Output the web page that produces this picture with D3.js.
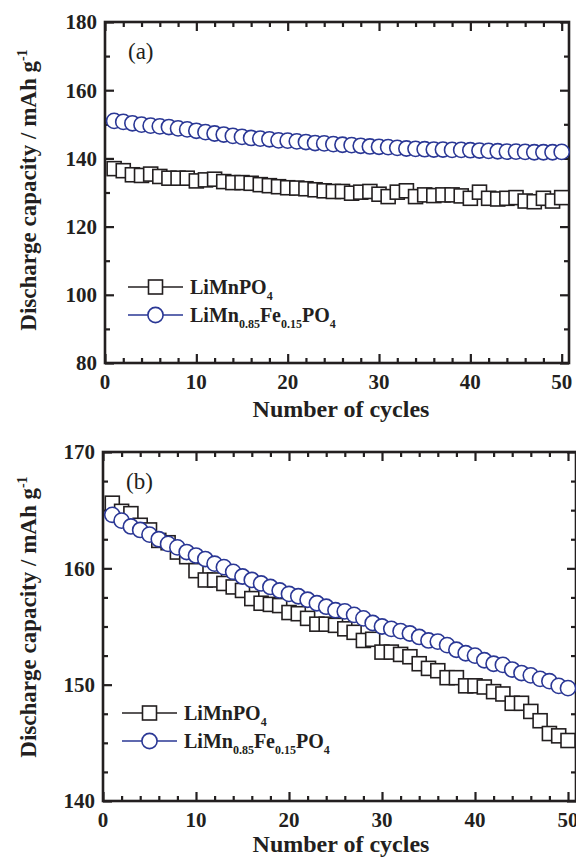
<!DOCTYPE html>
<html lang="en">
<head>
    <meta charset="UTF-8">
    <title>Discharge capacity vs cycles</title>
    <script src="https://d3js.org/d3.v7.min.js"></script>
</head>
<style>
    body{
        margin: 0;
        background: #fff;
    }
</style>
<body>
    <div id="chart-container"></div>
    <script>
        const cycles = [1,2,3,4,5,6,7,8,9,10,11,12,13,14,15,16,17,18,19,20,21,22,23,24,25,
                        26,27,28,29,30,31,32,33,34,35,36,37,38,39,40,41,42,43,44,45,46,47,48,49,50];

        // panel (a)
        const aMnPO4 = [137.0,136.4,135.2,135.0,135.4,134.7,134.2,134.2,134.2,133.4,
                        133.7,133.9,133.2,132.9,132.9,132.7,132.3,132.0,131.7,131.4,
                        131.3,131.1,130.8,130.5,130.3,130.3,129.8,130.1,130.3,129.5,
                        128.8,130.1,130.5,128.8,129.3,129.1,129.3,129.3,129.0,128.3,
                        130.1,128.3,128.1,128.3,128.5,127.5,127.3,128.3,127.5,128.5];
        const aMnFe = [151.0,150.7,150.3,149.9,149.6,149.4,149.2,148.8,148.5,148.1,
                       147.7,147.3,147.0,146.6,146.3,146.0,145.8,145.6,145.3,145.2,
                       145.0,144.8,144.5,144.4,144.2,144.0,143.9,143.7,143.5,143.4,
                       143.3,143.1,142.9,142.8,142.7,142.6,142.6,142.5,142.5,142.4,
                       142.3,142.2,142.1,142.0,142.0,141.9,141.8,141.8,141.8,141.9];

        // panel (b)
        const bMnPO4 = [165.6,164.9,164.7,163.7,163.3,162.4,162.2,161.4,161.0,159.8,
                        159.0,159.0,158.7,158.4,158.1,157.4,157.0,156.9,156.8,156.2,
                        156.1,155.7,155.2,155.2,155.1,154.8,154.5,153.8,153.9,152.8,
                        152.8,152.6,152.4,151.8,151.4,151.2,150.6,150.6,149.9,149.9,
                        149.8,149.4,149.2,148.4,148.4,147.7,146.9,145.8,145.6,145.2];
        const bMnFe = [164.6,164.1,163.6,163.3,162.9,162.5,162.1,161.8,161.4,161.1,
                       160.8,160.4,160.1,159.7,159.3,159.0,158.7,158.4,158.1,157.8,
                       157.6,157.3,157.0,156.7,156.4,156.3,156.0,155.7,155.3,155.0,
                       154.8,154.6,154.4,154.1,153.8,153.7,153.4,153.0,152.7,152.5,
                       152.1,151.8,151.7,151.3,151.0,150.8,150.5,150.3,149.9,149.7];

        const xMajor = [0, 10, 20, 30, 40, 50];
        const xMinor = [2,4,6,8,12,14,16,18,22,24,26,28,32,34,36,38,42,44,46,48];
        const aYMajor = [80, 100, 120, 140, 160, 180];
        const aYMinor = [90, 110, 130, 150, 170];
        const bYMajor = [140, 150, 160, 170];
        const bYMinor = [142.5, 145, 147.5, 152.5, 155, 157.5, 162.5, 165, 167.5];

        const w = 576;
        const h = 858;
        const blue = "#2a3795";
        const black = "#231f20";
        const serif = "'Liberation Serif', 'Times New Roman', Times, 'DejaVu Serif', serif";

        const svg = d3.select("#chart-container")
                    .append("svg")
                    .attr("width", w)
                    .attr("height", h)
                    .attr("font-family", serif)
                    .style("font-family", serif);

        const drawPanel = (p) => {
            const x = d3.scaleLinear().domain(p.xDomain).range([p.left, p.right]);
            const y = d3.scaleLinear().domain(p.yDomain).range([p.bottom, p.top]);
            const g = svg.append("g");

            // ticks on all four sides, pointing in
            const tickAxis = (axisFn, scale, vals, size, tx, ty) => {
                g.append("g")
                    .attr("transform", `translate(${tx},${ty})`)
                    .call(axisFn(scale).tickValues(vals).tickSizeInner(-size).tickSizeOuter(0).tickFormat(""))
                    .call(s => s.select(".domain").remove())
                    .call(s => s.selectAll("line").attr("stroke", black).attr("stroke-width", 2.2));
            };
            tickAxis(d3.axisBottom, x, xMajor, 9, 0, p.bottom);
            tickAxis(d3.axisBottom, x, xMinor, 5, 0, p.bottom);
            tickAxis(d3.axisTop, x, xMajor, 9, 0, p.top);
            tickAxis(d3.axisTop, x, xMinor, 5, 0, p.top);
            tickAxis(d3.axisLeft, y, p.yMajor, 9, p.left, 0);
            tickAxis(d3.axisLeft, y, p.yMinor, 5, p.left, 0);
            tickAxis(d3.axisRight, y, p.yMajor, 9, p.right, 0);
            tickAxis(d3.axisRight, y, p.yMinor, 5, p.right, 0);

            // frame
            g.append("rect")
                .attr("x", p.left).attr("y", p.top)
                .attr("width", p.right - p.left).attr("height", p.bottom - p.top)
                .attr("fill", "none").attr("stroke", black).attr("stroke-width", 2.6);

            const txt = (sel) => sel.attr("font-family", serif).attr("fill", black);

            // tick labels
            g.selectAll(".xlab").data(xMajor).enter().append("text").call(txt)
                .attr("x", d => x(d)).attr("y", p.bottom + 26)
                .attr("text-anchor", "middle").attr("font-size", 21).attr("font-weight", "bold")
                .text(d => d);
            g.selectAll(".ylab").data(p.yMajor).enter().append("text").call(txt)
                .attr("x", p.left - 8).attr("y", d => y(d)).attr("dy", "0.35em")
                .attr("text-anchor", "end").attr("font-size", 21).attr("font-weight", "bold")
                .text(d => d);

            // axis titles
            g.append("text").call(txt)
                .attr("x", 341).attr("y", p.bottom + p.xTitleDy)
                .attr("text-anchor", "middle").attr("font-size", 24).attr("font-weight", "bold")
                .text("Number of cycles");
            const yt = g.append("text").call(txt)
                .attr("transform", `translate(36,${p.yTitle}) rotate(-90)`)
                .attr("text-anchor", "middle").attr("font-size", 23).attr("font-weight", "bold");
            yt.append("tspan").text("Discharge capacity / mAh g");
            yt.append("tspan").attr("dy", -9).attr("font-size", 14).text("-1");

            g.append("text").call(txt)
                .attr("x", p.left + 23).attr("y", p.top + p.tagDy)
                .attr("font-size", 23)
                .text(p.tag);

            // series
            const sq = 14;
            const r = 7.6;
            const line = (vals) => d3.line().x((d, i) => x(cycles[i])).y(d => y(d))(vals);

            g.append("path").attr("d", line(p.black)).attr("fill", "none")
                .attr("stroke", black).attr("stroke-width", 1.5);
            g.selectAll(".sq").data(p.black).enter().append("rect")
                .attr("x", (d, i) => x(cycles[i]) - sq / 2).attr("y", d => y(d) - sq / 2)
                .attr("width", sq).attr("height", sq)
                .attr("fill", "#fff").attr("stroke", black).attr("stroke-width", 1.6);

            g.append("path").attr("d", line(p.blue)).attr("fill", "none")
                .attr("stroke", blue).attr("stroke-width", 1.5);
            g.selectAll(".ci").data(p.blue).enter().append("circle")
                .attr("cx", (d, i) => x(cycles[i])).attr("cy", d => y(d)).attr("r", r)
                .attr("fill", "#fff").attr("stroke", blue).attr("stroke-width", 1.6);

            // legend
            const lg = g.append("g").attr("transform", `translate(${p.legX},${p.legY})`);
            lg.append("line").attr("x1", 0).attr("x2", 55).attr("y1", 0).attr("y2", 0)
                .attr("stroke", black).attr("stroke-width", 1.5);
            lg.append("rect").attr("x", 27.5 - sq / 2).attr("y", -sq / 2).attr("width", sq).attr("height", sq)
                .attr("fill", "#fff").attr("stroke", black).attr("stroke-width", 1.6);
            lg.append("line").attr("x1", 0).attr("x2", 55).attr("y1", 28).attr("y2", 28)
                .attr("stroke", blue).attr("stroke-width", 1.5);
            lg.append("circle").attr("cx", 27.5).attr("cy", 28).attr("r", r)
                .attr("fill", "#fff").attr("stroke", blue).attr("stroke-width", 1.6);

            const t1 = lg.append("text").call(txt).attr("x", 62).attr("y", 7)
                .attr("font-size", 20).attr("font-weight", "bold");
            t1.append("tspan").text("LiMnPO");
            t1.append("tspan").attr("dy", 6).attr("font-size", 12).text("4");

            const t2 = lg.append("text").call(txt).attr("x", 62).attr("y", 35)
                .attr("font-size", 20).attr("font-weight", "bold");
            t2.append("tspan").text("LiMn");
            t2.append("tspan").attr("dy", 6).attr("font-size", 12).text("0.85");
            t2.append("tspan").attr("dy", -6).text("Fe");
            t2.append("tspan").attr("dy", 6).attr("font-size", 12).text("0.15");
            t2.append("tspan").attr("dy", -6).text("PO");
            t2.append("tspan").attr("dy", 6).attr("font-size", 12).text("4");
        };

        drawPanel({
            left: 105, right: 569, top: 22, bottom: 363,
            xDomain: [0, 50.8], yDomain: [80, 180],
            yMajor: aYMajor, yMinor: aYMinor,
            black: aMnPO4, blue: aMnFe,
            yTitle: 190, tag: "(a)", tagDy: 37, xTitleDy: 54,
            legX: 128, legY: 287
        });

        drawPanel({
            left: 103, right: 576, top: 452, bottom: 801,
            xDomain: [0, 50.86], yDomain: [140, 170],
            yMajor: bYMajor, yMinor: bYMinor,
            black: bMnPO4, blue: bMnFe,
            yTitle: 617, tag: "(b)", tagDy: 37, xTitleDy: 51,
            legX: 122, legY: 713
        });
    </script>
</body>
</html>
